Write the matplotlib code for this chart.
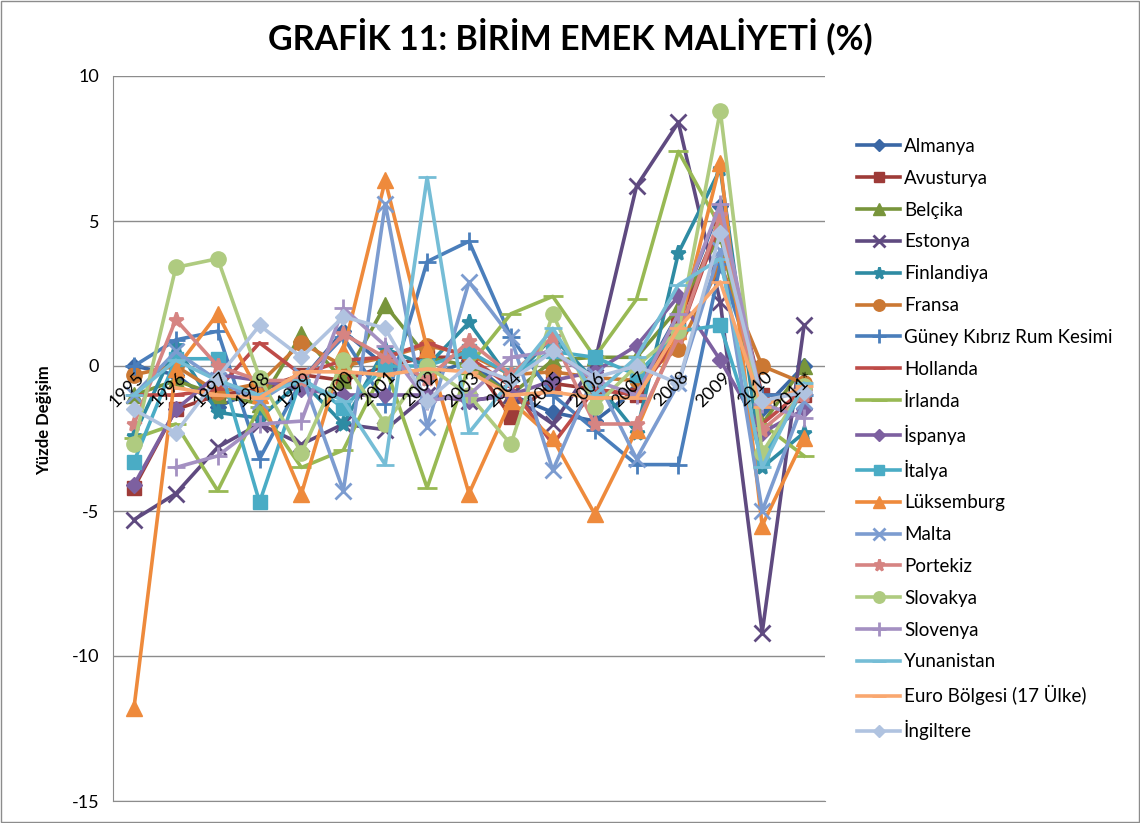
import numpy as np
import matplotlib
matplotlib.use("Agg")
import matplotlib.pyplot as plt
from matplotlib.patches import Rectangle

plt.rcParams['font.family'] = ['Lato', 'DejaVu Sans']

years = ["1995", "1996", "1997", "1998", "1999", "2000", "2001", "2002", "2003",
         "2004", "2005", "2006", "2007", "2008", "2009", "2010", "2011*"]
nan = np.nan

almanya     = [0.0, -0.3, -1.4, -0.8, -0.5, 1.2, 0.0, -0.4, 0.2, -1.0, -1.6, -1.9, -0.8, 1.8, 5.5, -1.5, 0.0]
avusturya   = [-4.2, -1.5, -1.0, -0.8, -0.3, -0.5, 0.0, 0.3, 0.3, -1.75, -0.6, -0.8, -1.0, 1.5, 5.0, -1.0, -1.0]
belcika     = [-1.0, -0.5, -1.0, -1.3, 1.1, -0.5, 2.1, 0.3, 0.0, -1.0, 0.2, 0.3, 0.3, 2.0, 4.5, -2.0, 0.0]
estonya     = [-5.3, -4.4, -2.8, -2.0, -2.7, -2.0, -2.2, -1.0, -1.2, -1.0, -2.0, 0.1, 6.2, 8.4, 2.2, -9.2, 1.4]
finlandiya  = [-2.4, 0.7, -1.6, -1.8, -0.5, -2.0, 0.6, 0.0, 1.5, -0.5, 1.0, -0.5, -2.3, 3.9, 6.8, -3.5, -2.3]
fransa      = [-0.3, 0.0, -0.9, -0.6, 0.8, 0.0, 0.3, 0.7, 0.4, -0.3, -0.2, -0.4, -0.5, 0.6, 3.5, 0.0, -0.6]
guney_kibris= [0.0, 0.9, 1.2, -3.2, -0.5, 1.0, -1.3, 3.6, 4.3, 1.0, -1.0, -2.2, -3.4, -3.4, 3.5, -1.0, -1.0]
hollanda    = [-1.0, -1.0, -0.8, 0.8, -0.3, 0.2, 0.3, 0.8, 0.3, -0.7, -2.7, -0.8, -1.0, 1.0, 5.0, -2.0, -0.8]
irlanda     = [-2.5, -2.0, -4.3, -1.4, -3.5, -2.9, 0.0, -4.2, 0.0, 1.8, 2.4, 0.3, 2.3, 7.4, 4.8, -2.0, -3.1]
ispanya     = [-4.1, -1.5, -0.3, -0.5, -0.8, -1.0, -1.0, -1.0, -1.2, -1.0, -0.5, -0.2, 0.7, 2.4, 0.2, -2.3, -1.5]
italya      = [-3.3, 0.25, 0.25, -4.7, -0.4, -1.45, 0.0, 0.0, 0.5, -0.3, 0.5, 0.3, -0.3, 1.2, 1.4, -3.2, -0.8]
luksemburg  = [-11.8, -0.1, 1.8, -1.0, -4.4, 0.5, 6.4, 0.6, -4.4, -1.2, -2.5, -5.1, -2.2, 1.2, 7.0, -5.5, -2.5]
malta       = [-1.0, 0.5, -0.5, -1.2, -0.3, -4.3, 5.6, -2.1, 2.9, 1.0, -3.6, -0.3, -3.2, -0.6, 4.0, -5.0, -1.2]
portekiz    = [-2.0, 1.6, 0.0, -0.5, -0.5, 1.1, 0.3, -0.45, 0.85, -0.3, 1.0, -2.0, -2.0, 1.0, 5.2, -2.2, -1.0]
slovakya    = [-2.7, 3.4, 3.7, -0.4, -3.0, 0.2, -2.0, 0.0, -1.0, -2.7, 1.8, -1.4, 0.0, 1.2, 8.8, -3.0, -0.7]
slovenya    = [nan, -3.5, -3.1, -2.0, -1.9, 2.0, 0.7, -1.2, -1.0, 0.3, 0.5, -0.5, -1.0, 1.8, 5.6, -1.3, -1.8]
yunanistan  = [-1.0, 0.2, -0.5, -1.0, -0.5, -1.2, -3.4, 6.5, -2.3, -0.5, 1.3, -1.0, 0.3, 2.8, 3.7, -3.5, -0.6]
euro        = [nan, -0.75, -1.0, -1.1, -0.2, -0.2, -0.3, -0.1, -0.2, -1.0, -0.9, -1.1, -1.1, 1.3, 2.9, -1.4, -0.7]
ingiltere   = [-1.5, -2.3, -0.4, 1.4, 0.3, 1.7, 1.3, -1.2, 0.05, -0.5, 0.5, -0.4, 0.0, -0.6, 4.6, -1.2, -0.9]

names = ["Almanya", "Avusturya", "Belçika", "Estonya", "Finlandiya", "Fransa",
         "Güney Kıbrız Rum Kesimi", "Hollanda", "İrlanda", "İspanya", "İtalya",
         "Lüksemburg", "Malta", "Portekiz", "Slovakya", "Slovenya", "Yunanistan",
         "Euro Bölgesi (17 Ülke)", "İngiltere"]
series = [almanya, avusturya, belcika, estonya, finlandiya, fransa, guney_kibris,
          hollanda, irlanda, ispanya, italya, luksemburg, malta, portekiz,
          slovakya, slovenya, yunanistan, euro, ingiltere]
colors = ["#3A67A5", "#9E3B38", "#78953B", "#5F4A80", "#2E8BA3", "#CB7833",
          "#4A7EBB", "#BE4B48", "#98B954", "#7D60A0", "#4AACC5", "#EE8A3C",
          "#7C9CD0", "#D68482", "#AFCB80", "#A490C2", "#75BDD6", "#F9A76F",
          "#B0C3E0"]
markers = ["D", "s", "^", "x", "*", "o", "+", "_", "_", "D", "s", "^", "x",
           "*", "o", "+", "_", "_", "D"]
msizes = [8, 10, 11, 11, 11, 11, 13, 11, 15, 8, 10, 11, 11, 11, 11, 13, 13, 13, 8]

fig = plt.figure(figsize=(11.4, 8.23), dpi=100)
fig.patches.append(Rectangle((0.001, 0.001), 0.998, 0.998, transform=fig.transFigure,
                             fill=False, edgecolor="#8C8C8C", lw=1.0))
ax = fig.add_axes([113/1140, 1-801/823, (825-113)/1140, (801-76)/823])

x = np.arange(len(years))
for vals, nm, c, m, ms in zip(series, names, colors, markers, msizes):
    mew = 2.0 if m in ("x", "+", "*", "_") else 1.0
    ax.plot(x, vals, color=c, lw=2.6, marker=m, markersize=ms,
            markeredgewidth=mew, markeredgecolor=c, markerfacecolor=c, label=nm)

ax.set_xlim(-0.5, len(years) - 0.5)
ax.set_ylim(-15, 10)
ax.set_yticks([10, 5, 0, -5, -10, -15])
ax.set_yticklabels(["10", "5", "0", "-5", "-10", "-15"], fontsize=13)
ax.yaxis.grid(True, color="#8C8C8C", lw=1.0)
ax.set_axisbelow(True)
ax.set_xticks([])
for s in ["top", "right"]:
    ax.spines[s].set_visible(False)
ax.spines["left"].set_color("#8C8C8C")
ax.spines["bottom"].set_color("#8C8C8C")
ax.tick_params(axis="y", length=0, pad=10)
ax.set_ylabel("Yüzde Değişim", fontsize=12, fontweight="bold")
ax.yaxis.set_label_coords(-0.085, 0.525)

for i, lab in enumerate(years):
    ax.text(i + 0.05, -0.1, lab, rotation=45, rotation_mode="anchor",
            ha="right", va="top", fontsize=13, color="black")

fig.text(0.5, 1-37/823, "GRAFİK 11: BİRİM EMEK MALİYETİ (%)", ha="center",
         va="center", fontsize=24.5, fontweight="bold")

leg = fig.legend(loc="upper left", bbox_to_anchor=(857/1140, 1-138/823),
                 frameon=False, fontsize=13.5, handlelength=2.3,
                 labelspacing=0.79, handletextpad=0.2, borderaxespad=0,
                 borderpad=0, markerscale=0.75)

fig.savefig("out.png", dpi=100)
